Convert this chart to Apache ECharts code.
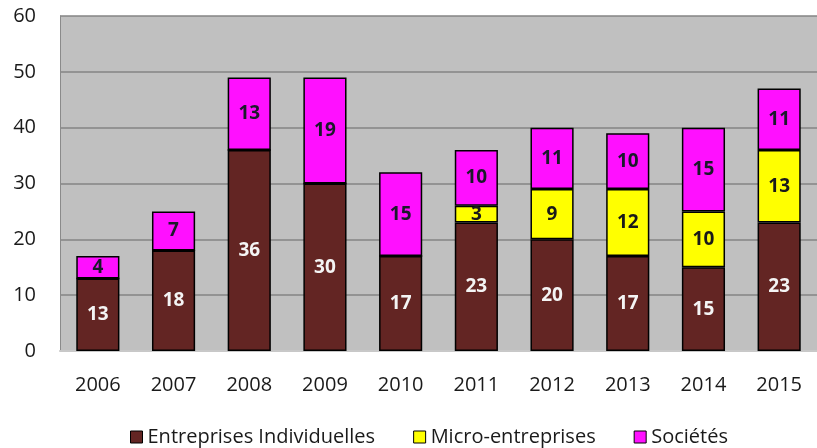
<!DOCTYPE html>
<html lang="fr">
<head>
    <meta charset="UTF-8">
    <title>Créations</title>
    <script src="https://cdn.jsdelivr.net/npm/echarts@6/dist/echarts.min.js"></script>
    <style>
        *{margin:0;padding:0;}
        body,html{width:100%;height:100%;overflow:hidden;background:#fff;}
        .box{width:817px;height:448px;}
    </style>
</head>
<body>
<div class="box"></div>
<script>
    let years = ['2006','2007','2008','2009','2010','2011','2012','2013','2014','2015'];
    let individuelles = [13, 18, 36, 30, 17, 23, 20, 17, 15, 23];
    let micro = [0, 0, 0, 0, 0, 3, 9, 12, 10, 13];
    let societes = [4, 7, 13, 19, 15, 10, 11, 10, 15, 11];

    let font = 'Open Sans';
    let myChart = echarts.init(document.querySelector('.box'));

    function makeSeries(name, data, color, labelColor) {
        return {
            name: name,
            type: 'bar',
            stack: 'total',
            data: data,
            barWidth: '57%',
            itemStyle: {color: color, borderColor: '#000', borderWidth: 1.5},
            label: {
                show: true,
                position: 'inside',
                color: labelColor,
                fontFamily: font,
                fontWeight: 'bold',
                fontSize: 19,
                formatter: p => p.value ? p.value : ''
            }
        };
    }

    let option = {
        animation: false,
        textStyle: {fontFamily: font},
        grid: {left: 60, right: -10, top: 16, bottom: 97, show: true, backgroundColor: '#c0c0c0', borderWidth: 0},
        legend: {
            left: 125,
            top: 422,
            icon: 'rect',
            itemWidth: 12,
            itemHeight: 12,
            itemGap: 38,
            textStyle: {fontFamily: font, fontSize: 20, color: '#1a1a1a'},
            itemStyle: {borderColor: '#000', borderWidth: 1}
        },
        xAxis: {
            type: 'category',
            data: years,
            axisLine: {lineStyle: {color: '#c8c8c8', width: 2}},
            axisTick: {show: false},
            axisLabel: {color: '#1a1a1a', fontSize: 20, margin: 24, fontFamily: font}
        },
        yAxis: {
            type: 'value',
            min: 0,
            max: 60,
            interval: 10,
            axisLine: {show: true, lineStyle: {color: '#8a8a8a'}},
            axisTick: {show: false},
            splitLine: {lineStyle: {color: '#858585', width: 1.5}},
            axisLabel: {color: '#1a1a1a', fontSize: 20, margin: 24, fontFamily: font}
        },
        series: [
            makeSeries('Entreprises Individuelles', individuelles, '#632523', '#f4f4f4'),
            makeSeries('Micro-entreprises', micro, '#ffff00', '#1a1a1a'),
            makeSeries('Sociétés', societes, '#ff10ff', '#1a1a2a')
        ]
    };

    myChart.setOption(option);
</script>
</body>
</html>
